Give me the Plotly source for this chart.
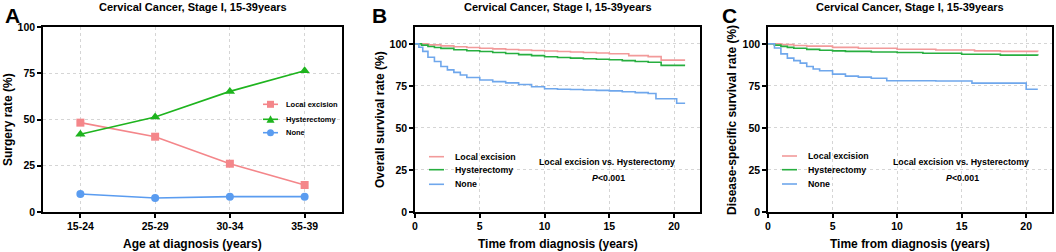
import plotly.graph_objects as go

W, H = 1056, 252
FONT = "Liberation Sans, Arial, sans-serif"

# ---------------- Data ----------------
age_groups = ["15-24", "25-29", "30-34", "35-39"]
rate_local = [48.3, 40.7, 26.1, 14.6]
rate_hyst = [42.0, 51.4, 65.2, 76.4]
rate_none = [9.7, 7.6, 8.3, 8.3]

# Overall survival (panel B), step-function knots
os_t_local = [0, 1, 2, 3, 4, 5, 6, 7, 8, 9, 10, 11, 12, 13, 14, 15, 16.5, 18, 19, 20.85]
os_s_local = [100, 99.4, 98.8, 98.3, 97.8, 97.4, 97.0, 96.6, 96.3, 96.0, 95.7, 95.4, 95.1, 94.8, 94.5, 94.1, 93.0, 92.4, 90.3, 90.3]
os_t_hyst = [0, 0.5, 1, 1.5, 2, 3, 4, 5, 6, 7, 8, 9, 10, 11, 12, 13, 14, 15, 16, 17, 18, 19, 20.85]
os_s_hyst = [100, 99.2, 98.4, 97.8, 97.3, 96.5, 95.9, 95.4, 94.8, 94.2, 93.6, 93.0, 92.3, 91.9, 91.5, 91.1, 90.8, 90.5, 90.0, 89.5, 89.0, 87.2, 87.2]
os_t_none = [0, 0.3, 0.6, 1, 1.5, 2, 2.5, 3, 3.5, 4, 5, 6, 7, 8, 9, 10, 11, 12, 13, 14, 15, 16, 17, 18, 18.6, 20.2, 20.85]
os_s_none = [100, 98, 95.5, 92, 89.5, 86.5, 84.5, 83, 81.5, 80, 78.5, 77.5, 76.8, 75.8, 74.5, 73.3, 73.0, 72.8, 72.5, 72.3, 72.0, 71.5, 71.0, 70.5, 67.3, 64.7, 64.7]

# Disease-specific survival (panel C)
dss_t_local = [0, 1, 2, 3, 5, 7, 10, 13, 16, 18, 20.9]
dss_s_local = [100, 99.5, 99.0, 98.6, 97.9, 97.4, 96.8, 96.3, 95.8, 95.5, 95.4]
dss_t_hyst = [0, 0.5, 1, 1.5, 2, 3, 4, 5, 6, 8, 10, 12, 15, 18, 20.9]
dss_s_hyst = [100, 99.2, 98.5, 97.9, 97.4, 96.7, 96.2, 95.8, 95.5, 95.1, 94.8, 94.4, 93.8, 93.3, 93.0]
dss_t_none = [0, 0.5, 1, 1.5, 2, 2.5, 3, 3.5, 4, 5, 6, 7, 8, 9.2, 11, 13, 15.8, 17, 20.0, 20.9]
dss_s_none = [100, 97.5, 94, 91.5, 90, 88.5, 86.5, 85, 84, 82, 80.8, 80.2, 79.5, 78.0, 78.0, 77.9, 76.6, 76.6, 73.0, 73.0]

series_names = ["Local excision", "Hysterectomy", "None"]
panel_title = "Cervical Cancer, Stage I, 15-39years"

# ---------------- Styles ----------------
C_RED_A, C_GRN_A, C_BLU_A = "#F4868A", "#1EB41E", "#5A9CF0"
C_RED, C_GRN, C_BLU = "#F29A9A", "#27AE3F", "#6FA7EC"

def px(x):
    return x / W

def py(y):
    return 1 - y / H

fig = go.Figure()

# Panel A
for vals, col, sym, size in [(rate_local, C_RED_A, "square", 8),
                             (rate_hyst, C_GRN_A, "triangle-up", 9),
                             (rate_none, C_BLU_A, "circle", 8)]:
    fig.add_trace(go.Scatter(x=age_groups, y=vals, mode="lines+markers",
                             line=dict(color=col, width=1.6),
                             marker=dict(symbol=sym, size=size, color=col),
                             xaxis="x", yaxis="y", showlegend=False))

# Panel B
for t, s, col in [(os_t_local, os_s_local, C_RED), (os_t_hyst, os_s_hyst, C_GRN), (os_t_none, os_s_none, C_BLU)]:
    fig.add_trace(go.Scatter(x=t, y=s, mode="lines", line=dict(color=col, width=1.6, shape="hv"),
                             xaxis="x2", yaxis="y2", showlegend=False))
# Panel C
for t, s, col in [(dss_t_local, dss_s_local, C_RED), (dss_t_hyst, dss_s_hyst, C_GRN), (dss_t_none, dss_s_none, C_BLU)]:
    fig.add_trace(go.Scatter(x=t, y=s, mode="lines", line=dict(color=col, width=1.6, shape="hv"),
                             xaxis="x3", yaxis="y3", showlegend=False))

tickfont = dict(family=FONT, size=10.5, color="black", weight="bold")
common = dict(showline=True, linecolor="black", linewidth=1.5, mirror=True,
              ticks="outside", ticklen=4, tickwidth=1.5, tickcolor="black",
              showgrid=True, gridcolor="#D5D5D5", griddash="dot", gridwidth=1,
              zeroline=False, tickfont=tickfont, fixedrange=True, automargin=False)

ydom = [py(212), py(27)]
doms = [(43, 342), (415, 700), (768, 1052)]

layout = dict(
    width=W, height=H, margin=dict(l=0, r=0, t=0, b=0, autoexpand=False),
    paper_bgcolor="white", plot_bgcolor="white", showlegend=False,
    xaxis=dict(domain=[px(doms[0][0]), px(doms[0][1])], type="category",
               range=[-0.5, 3.5], anchor="y", **common),
    yaxis=dict(domain=ydom, range=[0, 100], tickvals=[0, 25, 50, 75, 100], anchor="x", **common),
    xaxis2=dict(domain=[px(doms[1][0]), px(doms[1][1])], range=[0, 22],
                tickvals=[0, 5, 10, 15, 20], anchor="y2", **common),
    yaxis2=dict(domain=ydom, range=[0, 110], tickvals=[0, 25, 50, 75, 100], anchor="x2", **common),
    xaxis3=dict(domain=[px(doms[2][0]), px(doms[2][1])], range=[0, 22],
                tickvals=[0, 5, 10, 15, 20], anchor="y3", **common),
    yaxis3=dict(domain=ydom, range=[0, 110], tickvals=[0, 25, 50, 75, 100], anchor="x3", **common),
)
fig.update_layout(**layout)

ann = []
shapes = []

def text(x, y, s, size, xanchor="center", angle=0, bold=True, italic=False):
    ann.append(dict(x=px(x), y=py(y), xref="paper", yref="paper", text=s, showarrow=False,
                    xanchor=xanchor, yanchor="middle", textangle=angle,
                    font=dict(family=FONT, size=size, color="black",
                              weight="bold" if bold else "normal",
                              style="italic" if italic else "normal")))

# Panel titles and letters
for (x0, x1), letter, lx in zip(doms, ["A", "B", "C"], [12, 379, 729]):
    text((x0 + x1) / 2, 7, panel_title, 11)
    text(lx, 15, letter, 21)

# Axis titles
text(8, 120, "Surgery rate (%)", 12, angle=-90)
text(380, 120, "Overall survival rate (%)", 12, angle=-90)
text(732, 120, "Disease-specific survival rate (%)", 12, angle=-90)
text(192.5, 244, "Age at diagnosis (years)", 12)
text(557.5, 244, "Time from diagnosis (years)", 12)
text(910, 244, "Time from diagnosis (years)", 12)

# Panel A legend
leg_rows = [104.3, 119.3, 132.7]
cols_a = [C_RED_A, C_GRN_A, C_BLU_A]
for name, yy, col, k in zip(series_names, leg_rows, cols_a, range(3)):
    shapes.append(dict(type="line", xref="paper", yref="paper", x0=px(263), x1=px(278),
                       y0=py(yy), y1=py(yy), line=dict(color=col, width=1.6)))
    if k == 0:
        shapes.append(dict(type="rect", xref="paper", yref="paper", x0=px(267), x1=px(274),
                           y0=py(yy + 3.5), y1=py(yy - 3.5), fillcolor=col, line=dict(width=0)))
    elif k == 1:
        path = "M {} {} L {} {} L {} {} Z".format(px(266.5), py(yy + 3.5), px(274.5), py(yy + 3.5),
                                                  px(270.5), py(yy - 4))
        shapes.append(dict(type="path", xref="paper", yref="paper", path=path,
                           fillcolor=col, line=dict(width=0)))
    else:
        shapes.append(dict(type="circle", xref="paper", yref="paper", x0=px(267), x1=px(274),
                           y0=py(yy + 3.5), y1=py(yy - 3.5), fillcolor=col, line=dict(width=0)))
    text(284, yy, name, 7.5, xanchor="left")

# Panels B & C legends and annotations
cols_bc = [C_RED, C_GRN, C_BLU]
for (lx0, lx1, tx, rows, acx) in [(429, 444, 453, [156.7, 169.7, 184.3], 607),
                                  (782, 797, 806, [156.0, 169.7, 184.0], 961)]:
    for name, yy, col in zip(series_names, rows, cols_bc):
        shapes.append(dict(type="line", xref="paper", yref="paper", x0=px(lx0), x1=px(lx1),
                           y0=py(yy), y1=py(yy), line=dict(color=col, width=1.6)))
        text(tx, yy, name, 8.8, xanchor="left")
    text(acx, 162, "Local excision vs. Hysterectomy", 8.8)
    text(acx + 1, 178, "<i>P</i>&lt;0.001", 8.8)

fig.update_layout(annotations=ann, shapes=shapes)
fig.write_html("out.html", config={"displayModeBar": False},
               post_script="document.body.style.margin='0';document.body.style.overflow='hidden';")
